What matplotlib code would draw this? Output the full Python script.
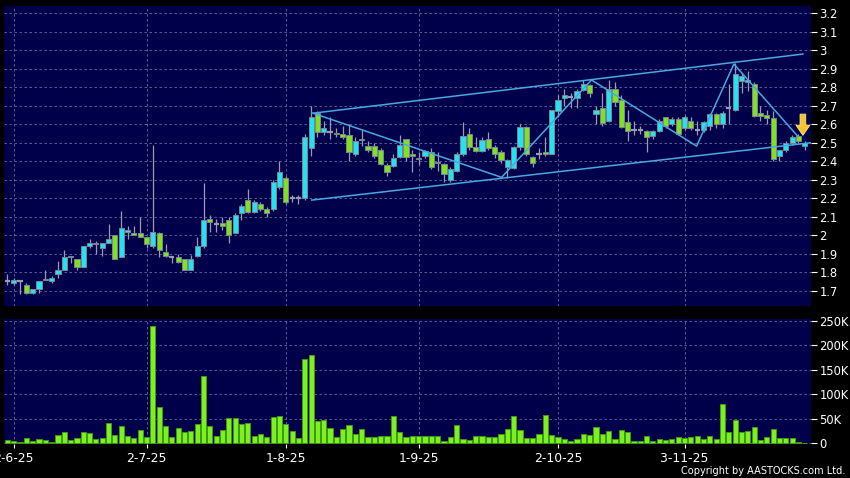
import numpy as np
import matplotlib
matplotlib.use("Agg")
import matplotlib.pyplot as plt
from matplotlib.patches import Polygon
from matplotlib import font_manager

# ---------------- data ----------------
opens = [1.75, 1.74, 1.75, 1.73, 1.69, 1.71, 1.765, 1.75, 1.79, 1.81,
         1.88, 1.87, 1.83, 1.94, 1.96, 1.93, 1.96, 2.00, 1.88, 2.02,
         2.01, 2.01, 1.99, 1.94, 2.01, 1.91, 1.88, 1.88, 1.87, 1.81,
         1.89, 1.94, 2.09, 2.06, 2.065, 2.08, 2.01, 2.12, 2.19, 2.125,
         2.17, 2.14, 2.14, 2.26, 2.31, 2.20, 2.20, 2.20, 2.47, 2.66,
         2.56, 2.56, 2.555, 2.55, 2.54, 2.44, 2.52, 2.48, 2.48, 2.46,
         2.38, 2.375, 2.425, 2.52, 2.44, 2.42, 2.43, 2.45, 2.397, 2.385,
         2.30, 2.35, 2.44, 2.547, 2.475, 2.457, 2.52, 2.475, 2.448, 2.37,
         2.366, 2.475, 2.583, 2.424, 2.442, 2.45, 2.442, 2.67, 2.74, 2.75,
         2.74, 2.785, 2.81, 2.655, 2.69, 2.62, 2.79, 2.73, 2.61, 2.57,
         2.57, 2.563, 2.537, 2.563, 2.64, 2.60, 2.63, 2.58, 2.62, 2.57,
         2.57, 2.59, 2.655, 2.60, 2.686, 2.68, 2.836, 2.83, 2.82, 2.66,
         2.65, 2.632, 2.43, 2.46, 2.50, 2.536, 2.48]
highs = [1.79, 1.77, 1.76, 1.74, 1.71, 1.75, 1.81, 1.78, 1.86, 1.92,
         1.89, 1.87, 1.94, 1.98, 1.97, 1.96, 2.06, 2.00, 2.13, 2.05,
         2.05, 2.10, 1.99, 2.49, 2.02, 1.95, 1.89, 1.90, 1.87, 1.895,
         1.99, 2.28, 2.11, 2.09, 2.10, 2.10, 2.12, 2.17, 2.25, 2.19,
         2.18, 2.15, 2.30, 2.40, 2.32, 2.22, 2.22, 2.55, 2.70, 2.67,
         2.62, 2.64, 2.58, 2.59, 2.60, 2.53, 2.57, 2.51, 2.50, 2.47,
         2.39, 2.44, 2.54, 2.52, 2.46, 2.45, 2.46, 2.47, 2.45, 2.39,
         2.37, 2.45, 2.61, 2.58, 2.53, 2.53, 2.56, 2.49, 2.46, 2.41,
         2.48, 2.60, 2.59, 2.43, 2.47, 2.53, 2.68, 2.76, 2.79, 2.77,
         2.79, 2.84, 2.82, 2.70, 2.77, 2.84, 2.83, 2.76, 2.68, 2.62,
         2.59, 2.57, 2.57, 2.63, 2.64, 2.64, 2.64, 2.65, 2.64, 2.62,
         2.62, 2.66, 2.66, 2.67, 2.82, 2.93, 2.88, 2.89, 2.83, 2.70,
         2.68, 2.67, 2.46, 2.51, 2.54, 2.55, 2.51]
lows = [1.73, 1.73, 1.68, 1.68, 1.68, 1.69, 1.76, 1.74, 1.77, 1.81,
        1.85, 1.81, 1.83, 1.93, 1.90, 1.89, 1.96, 1.87, 1.88, 1.98,
        2.00, 1.99, 1.93, 1.93, 1.88, 1.88, 1.85, 1.85, 1.81, 1.81,
        1.88, 1.93, 2.02, 2.02, 2.03, 1.96, 2.01, 2.08, 2.12, 2.12,
        2.13, 2.10, 2.13, 2.25, 2.17, 2.18, 2.17, 2.19, 2.43, 2.53,
        2.54, 2.52, 2.53, 2.52, 2.40, 2.43, 2.48, 2.45, 2.42, 2.38,
        2.32, 2.37, 2.42, 2.40, 2.34, 2.38, 2.42, 2.36, 2.35, 2.29,
        2.29, 2.34, 2.43, 2.46, 2.45, 2.45, 2.46, 2.42, 2.39, 2.31,
        2.36, 2.46, 2.43, 2.37, 2.41, 2.43, 2.44, 2.64, 2.70, 2.69,
        2.69, 2.78, 2.75, 2.60, 2.59, 2.61, 2.70, 2.58, 2.51, 2.54,
        2.55, 2.45, 2.52, 2.56, 2.58, 2.59, 2.54, 2.57, 2.57, 2.54,
        2.56, 2.57, 2.58, 2.58, 2.60, 2.67, 2.77, 2.78, 2.64, 2.62,
        2.60, 2.40, 2.40, 2.45, 2.49, 2.50, 2.46]
closes = [1.75, 1.76, 1.75, 1.69, 1.71, 1.75, 1.76, 1.77, 1.81, 1.88,
          1.89, 1.83, 1.94, 1.96, 1.955, 1.96, 1.98, 1.87, 2.04, 2.03,
          2.00, 1.99, 1.95, 2.02, 1.92, 1.89, 1.88, 1.855, 1.81, 1.87,
          1.94, 2.08, 2.07, 2.06, 2.05, 2.00, 2.11, 2.16, 2.125, 2.18,
          2.14, 2.12, 2.29, 2.34, 2.18, 2.20, 2.20, 2.53, 2.64, 2.56,
          2.58, 2.56, 2.55, 2.53, 2.45, 2.51, 2.515, 2.46, 2.43, 2.385,
          2.34, 2.42, 2.49, 2.425, 2.43, 2.41, 2.455, 2.37, 2.39, 2.33,
          2.36, 2.44, 2.535, 2.478, 2.457, 2.516, 2.47, 2.442, 2.406, 2.406,
          2.475, 2.583, 2.442, 2.393, 2.442, 2.442, 2.677, 2.73, 2.76, 2.75,
          2.78, 2.82, 2.77, 2.68, 2.605, 2.79, 2.72, 2.587, 2.566, 2.57,
          2.57, 2.53, 2.563, 2.62, 2.59, 2.63, 2.55, 2.64, 2.58, 2.57,
          2.61, 2.655, 2.60, 2.66, 2.686, 2.87, 2.86, 2.84, 2.645, 2.645,
          2.634, 2.41, 2.46, 2.50, 2.53, 2.507, 2.50]
volumes_k = [6.8, 4.8, 2.0, 10.9, 4.8, 8.2, 7.5, 3.4, 17.0, 22.5,
             6.8, 11.6, 23.8, 21.0, 8.2, 10.2, 40.9, 16.3, 36.0, 15.0,
             10.9, 27.2, 12.9, 240.0, 74.0, 34.7, 13.6, 32.0, 22.5, 25.2,
             38.8, 137.0, 36.0, 15.7, 27.2, 52.5, 52.5, 38.8, 40.9, 15.0,
             18.4, 13.6, 53.8, 55.2, 38.8, 24.5, 10.9, 172.0, 180.0, 46.3,
             48.4, 30.7, 12.9, 29.3, 36.8, 18.4, 30.0, 12.3, 12.3, 14.3,
             15.7, 55.9, 23.2, 12.9, 15.0, 15.0, 15.0, 15.0, 15.7, 5.4,
             13.6, 36.8, 9.5, 6.8, 15.7, 14.3, 12.3, 12.3, 18.4, 28.6,
             55.9, 27.2, 10.9, 10.9, 18.4, 58.6, 16.3, 12.3, 8.2, 5.4,
             8.9, 19.8, 16.3, 33.4, 19.8, 24.5, 9.5, 26.6, 23.2, 5.4,
             4.0, 15.7, 4.8, 9.5, 6.1, 9.5, 12.3, 11.6, 12.3, 15.7,
             9.5, 15.0, 8.2, 80.4, 22.5, 47.7, 23.8, 25.2, 32.7, 6.8,
             12.9, 29.3, 10.9, 11.6, 10.9, 2.0, 0.5]

tick_index = [1, 22, 44, 65, 87, 107]
tick_labels = ["2-6-25", "2-7-25", "1-8-25", "1-9-25", "2-10-25", "3-11-25"]
price_ticks = [1.7, 1.8, 1.9, 2.0, 2.1, 2.2, 2.3, 2.4, 2.5, 2.6, 2.7, 2.8, 2.9, 3.0, 3.1, 3.2]
vol_ticks_k = [0, 50, 100, 150, 200, 250]

# trend lines drawn on the chart (index, price)
channel_upper = ([48.3, 125.7], [2.66, 2.98])
channel_lower = ([48.1, 126.9], [2.19, 2.50])
zigzag = ([48.3, 78.1, 92.3, 108.9, 114.8, 124.9],
          [2.66, 2.313, 2.84, 2.482, 2.926, 2.535])
arrow_at = (125.7, 2.54)  # tip of the yellow marker arrow
copyright_text = "Copyright by AASTOCKS.com Ltd."

# ---------------- style ----------------
BG = "#000000"
PANEL = "#00004a"
GRID = "#6a6aa0"
UP = "#22e4f0"
DOWN = "#7ee21e"
WICK = "#9a9ab0"
EDGE = "#7c8494"
LINE = "#4aa8e0"
TICK_FS = 8.3

fig = plt.figure(figsize=(8.5, 4.78), dpi=100, facecolor=BG)
axp = fig.add_axes([4/850, (478-306)/478, 806.5/850, 300/478], facecolor=PANEL)
axv = fig.add_axes([4/850, (478-444)/478, 806.5/850, 125/478], facecolor=PANEL)

o = np.array(opens); h = np.array(highs); l = np.array(lows); c = np.array(closes)
x = np.arange(len(c))
vol = np.array(volumes_k) * 1000

xlim = (-0.52, 126.9)

for ax in (axp, axv):
    ax.set_xlim(*xlim)
    for s in ax.spines.values():
        s.set_visible(False)
    ax.grid(True, color=GRID, linestyle=(0, (3, 3)), linewidth=0.6)
    ax.set_axisbelow(True)
    ax.yaxis.tick_right()
    ax.tick_params(axis="y", colors="white", labelcolor="white", length=4,
                   width=0.8, pad=2.5, labelsize=TICK_FS)
    ax.set_xticks(tick_index)

axp.tick_params(axis="x", length=0, labelbottom=False)
axv.tick_params(axis="x", colors="white", labelcolor="white", length=3,
                width=0.8, pad=3, labelsize=TICK_FS + 0.6, direction="out")
axv.set_xticklabels(tick_labels)

# price panel
axp.set_ylim(1.617, 3.24)
axp.set_yticks(price_ticks)
axp.set_yticklabels(["%g" % t for t in price_ticks])

axp.vlines(x, l, h, color=WICK, linewidth=0.9, zorder=2)
doji = np.abs(c - o) < 0.004
up = (c > o) & ~doji
dn = (c < o) & ~doji
w = 0.82
axp.bar(x[up], (c - o)[up], bottom=o[up], width=w, color=UP,
        edgecolor=EDGE, linewidth=0.7, zorder=3)
axp.bar(x[dn], (o - c)[dn], bottom=c[dn], width=w, color=DOWN,
        edgecolor=EDGE, linewidth=0.7, zorder=3)
axp.hlines(c[doji], x[doji] - w/2, x[doji] + w/2, color=WICK, linewidth=1.6, zorder=3)

for xs, ys in (channel_upper, channel_lower, zigzag):
    axp.plot(xs, ys, color=LINE, linewidth=1.1, zorder=4)

# yellow arrow marker
ax_, ay_ = arrow_at
arrow = Polygon([(ax_ - 0.45, ay_ + 0.115), (ax_ + 0.45, ay_ + 0.115),
                 (ax_ + 0.45, ay_ + 0.055), (ax_ + 1.1, ay_ + 0.055),
                 (ax_, ay_), (ax_ - 1.1, ay_ + 0.055), (ax_ - 0.45, ay_ + 0.055)],
                closed=True, facecolor="#f7c430", edgecolor="#ffe680",
                linewidth=0.6, zorder=5)
axp.add_patch(arrow)

# volume panel
axv.set_ylim(-1400, 254000)
axv.set_yticks([v * 1000 for v in vol_ticks_k])
axv.set_yticklabels([("%dK" % v) if v else "0" for v in vol_ticks_k])
axv.bar(x, vol, width=0.82, color="#7cf020", edgecolor="#3f9a12",
        linewidth=0.7, zorder=3)

# copyright line: narrow face if available, sized to the reference width
names = {f.name for f in font_manager.fontManager.ttflist}
cond_dejavu = any(f.name == "DejaVu Sans" and "condensed" in str(f.stretch)
                  for f in font_manager.fontManager.ttflist)
if "Liberation Sans Narrow" in names:
    ckw = dict(family="Liberation Sans Narrow")
elif cond_dejavu:
    ckw = dict(family="DejaVu Sans", stretch="condensed")
else:
    ckw = dict(family="Liberation Sans")
t = fig.text(845/850, 1 - 471/478, copyright_text, color="white",
             fontsize=9.5, ha="right", va="center", **ckw)
fig.canvas.draw()
wpx = t.get_window_extent().width
if wpx > 0:
    t.set_fontsize(min(10.5, 9.5 * 166.0 / wpx))

fig.savefig("out.png", dpi=100, facecolor=BG)
